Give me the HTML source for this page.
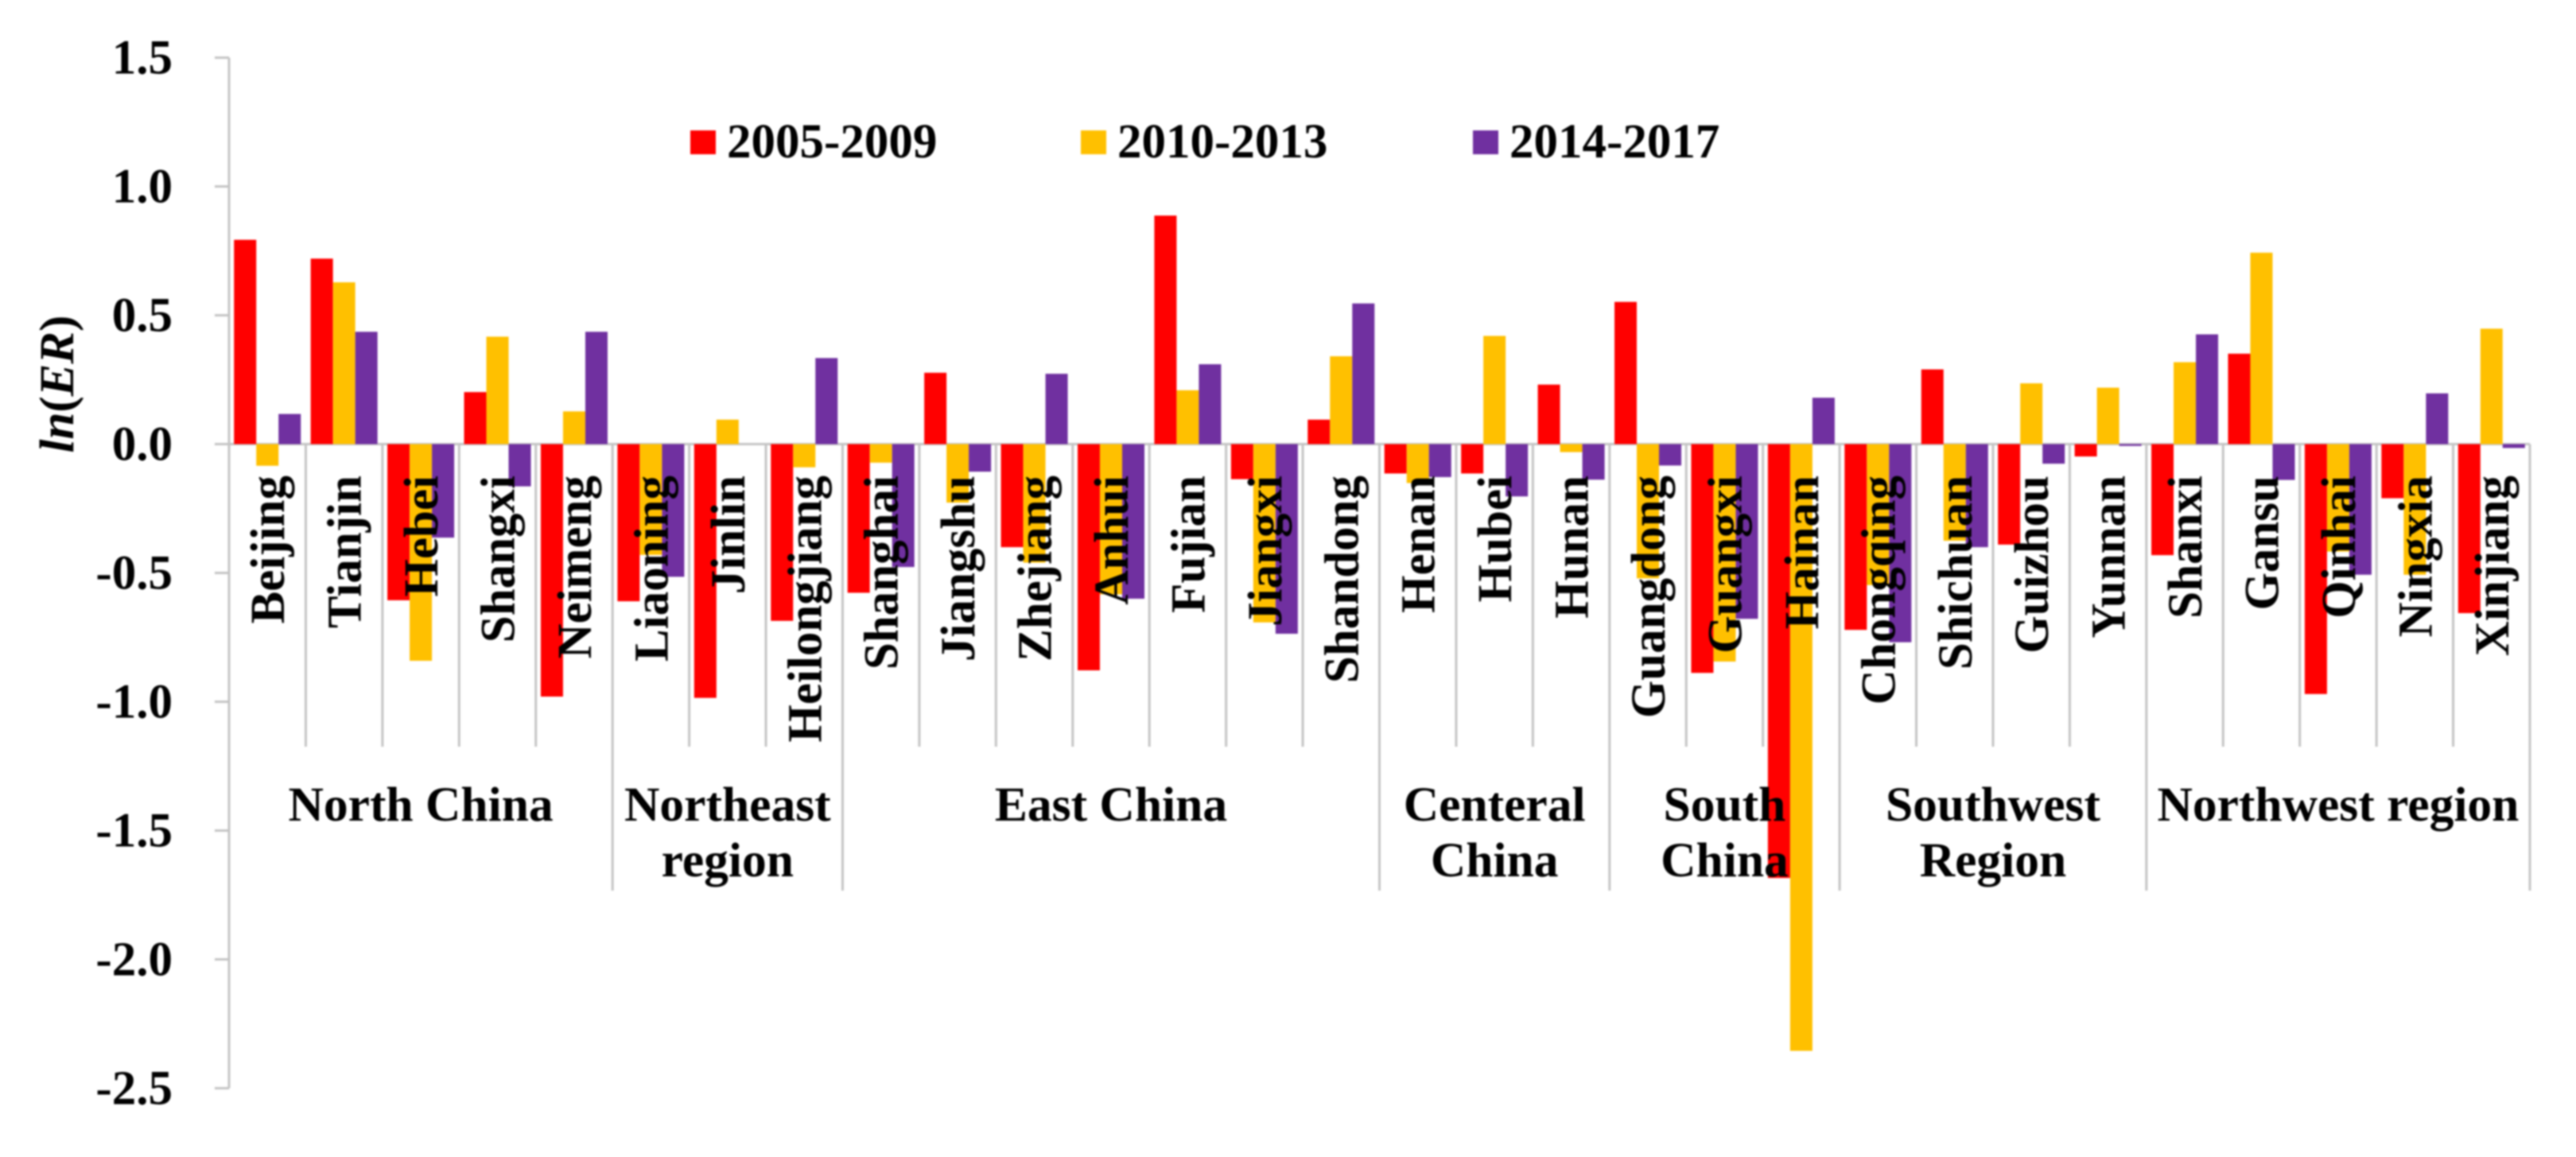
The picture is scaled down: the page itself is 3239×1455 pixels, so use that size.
<!DOCTYPE html>
<html lang="en">
<head>
<meta charset="utf-8">
<title>ln(ER) by province</title>
<style>
  html, body { margin: 0; padding: 0; background: #ffffff; }
  body { width: 3239px; height: 1455px; overflow: hidden; }
  svg { display: block; filter: blur(1.1px); }
  text { font-family: "Liberation Serif", serif; font-weight: 700; font-size: 61px; fill: #000000; }
  .region { font-size: 61.5px; }
</style>
</head>
<body>
<svg id="chart" xmlns="http://www.w3.org/2000/svg" width="3239" height="1455" viewBox="0 0 3239 1455"></svg>
<script>
const categories = ["Beijing","Tianjin","Hebei","Shangxi","Neimeng","Liaoning","Jinlin","Heilongjiang","Shanghai","Jiangshu","Zhejiang","Anhui","Fujian","Jiangxi","Shandong","Henan","Hubei","Hunan","Guangdong","Guangxi","Hainan","Chongqing","Shichuan","Guizhou","Yunnan","Shanxi","Gansu","Qinhai","Ningxia","Xinjiang"];
const series2005to2009 = [0.793,0.72,-0.606,0.202,-0.98,-0.61,-0.985,-0.686,-0.577,0.277,-0.40,-0.878,0.887,-0.136,0.095,-0.114,-0.114,0.231,0.552,-0.888,-1.684,-0.721,0.29,-0.39,-0.048,-0.431,0.351,-0.97,-0.21,-0.656];
const series2010to2013 = [-0.084,0.628,-0.841,0.417,0.127,-0.43,0.095,-0.09,-0.072,-0.227,-0.46,-0.583,0.209,-0.692,0.341,-0.151,0.42,-0.031,-0.521,-0.844,-2.355,-0.547,-0.375,0.236,0.219,0.318,0.743,-0.417,-0.507,0.448];
const series2014to2017 = [0.117,0.436,-0.363,-0.164,0.436,-0.515,0,0.334,-0.477,-0.107,0.273,-0.60,0.31,-0.736,0.546,-0.128,-0.203,-0.138,-0.083,-0.678,0.18,-0.769,-0.40,-0.076,-0.007,0.426,-0.139,-0.507,0.197,-0.015];
const tickValues = [1.5,1.0,0.5,0.0,-0.5,-1.0,-1.5,-2.0,-2.5];
const regionNames = [["North China"],["Northeast","region"],["East China"],["Centeral","China"],["South","China"],["Southwest","Region"],["Northwest region"]];
const regionCounts = [5,3,7,3,3,4,5];
const legendNames = ["2005-2009","2010-2013","2014-2017"];

const NS = "http://www.w3.org/2000/svg";
const svg = document.getElementById("chart");
const AXIS_COLOR = "#c4c4c4";
const X0 = 288, X1 = 3181, Y0 = 558.5, UNIT = 324;
const STEP = (X1 - X0) / categories.length;
const BAR_W = 28;

function xBand(i) { return X0 + i * STEP; }
function yVal(v) { return Y0 - v * UNIT; }
function make(tag, attrs) {
  const el = document.createElementNS(NS, tag);
  Object.keys(attrs).forEach(function (k) { el.setAttribute(k, attrs[k]); });
  return el;
}
function line(x1, y1, x2, y2, parent) {
  const el = make("line", { x1: x1, y1: y1, x2: x2, y2: y2, stroke: AXIS_COLOR, "stroke-width": 3 });
  parent.appendChild(el);
  return el;
}

/* gridless axis group */
const axisGroup = make("g", {});


svg.appendChild(axisGroup);

const yAxisLine = line(X0, yVal(tickValues[0]), X0, yVal(tickValues[tickValues.length - 1]), axisGroup);



tickValues.forEach(function (t) {
  const tick = line(270, yVal(t), X0, yVal(t), axisGroup);
  
  
  const label = make("text", { x: 217, y: yVal(t) + 20, "text-anchor": "end" });
  label.textContent = t.toFixed(1);
  
  
  axisGroup.appendChild(label);
});

const zeroLine = line(270, Y0, X1, Y0, axisGroup);



/* category separators */
const regionEdges = [];
regionCounts.reduce(function (sum, n) { regionEdges.push(sum + n); return sum + n; }, 0);
for (let i = 1; i <= categories.length; i++) {
  const isRegion = regionEdges.indexOf(i) >= 0;
  const sep = line(xBand(i), Y0, xBand(i), isRegion ? 1120 : 939, axisGroup);
  
  
}
const firstSep = line(X0, Y0, X0, 1120, axisGroup);



/* bars */
const allSeries = [series2005to2009, series2010to2013, series2014to2017];
const seriesColors = ["#ff0000", "#ffc000", "#7030a0"];
const barGroup = make("g", {});


svg.appendChild(barGroup);
allSeries.forEach(function (values, s) {
  values.forEach(function (v, i) {
    const groupLeft = xBand(i) + (STEP - 3 * BAR_W) / 2;
    const top = Math.min(yVal(v), Y0);
    const bar = make("rect", {
      x: groupLeft + s * BAR_W,
      y: top,
      width: BAR_W,
      height: Math.abs(yVal(v) - Y0),
      fill: seriesColors[s]
    });
    
    
    barGroup.appendChild(bar);
  });
});

/* category labels */
categories.forEach(function (name, i) {
  const bx = xBand(i) + STEP / 2 + 21;
  const label = make("text", { x: bx, y: 598, "text-anchor": "end", transform: "rotate(-90 " + bx + " 598)" });
  label.textContent = name;
  
  
  svg.appendChild(label);
});

/* region labels */
let regionStart = 0;
regionNames.forEach(function (lines, r) {
  const cx = xBand(regionStart + regionCounts[r] / 2);
  lines.forEach(function (txt, l) {
    const label = make("text", { x: cx, y: 1032 + l * 70, "text-anchor": "middle", "class": "region" });
    label.textContent = txt;
    
    
    svg.appendChild(label);
  });
  regionStart += regionCounts[r];
});

/* legend */
const legendSwatchX = [868, 1359, 1852];
const legendGroup = make("g", {});


svg.appendChild(legendGroup);
legendNames.forEach(function (name, s) {
  const sw = make("rect", { x: legendSwatchX[s], y: 164, width: 32, height: 30, fill: seriesColors[s] });
  
  
  legendGroup.appendChild(sw);
  const label = make("text", { x: legendSwatchX[s] + 46, y: 198 });
  label.textContent = name;
  
  
  legendGroup.appendChild(label);
});

/* y-axis title */
const yTitle = make("text", { x: 92, y: 483, "text-anchor": "middle", transform: "rotate(-90 92 483)", "font-style": "italic" });
yTitle.style.fontStyle = "italic";
const titlePre = make("tspan", {});
titlePre.textContent = "ln";
const titleParen1 = make("tspan", { "font-style": "normal" });
titleParen1.style.fontStyle = "normal";
titleParen1.textContent = "(";
const titleEr = make("tspan", {});
titleEr.textContent = "ER";
const titleParen2 = make("tspan", { "font-style": "normal" });
titleParen2.style.fontStyle = "normal";
titleParen2.textContent = ")";
yTitle.appendChild(titlePre);
yTitle.appendChild(titleParen1);
yTitle.appendChild(titleEr);
yTitle.appendChild(titleParen2);


svg.appendChild(yTitle);
</script>
</body>
</html>
